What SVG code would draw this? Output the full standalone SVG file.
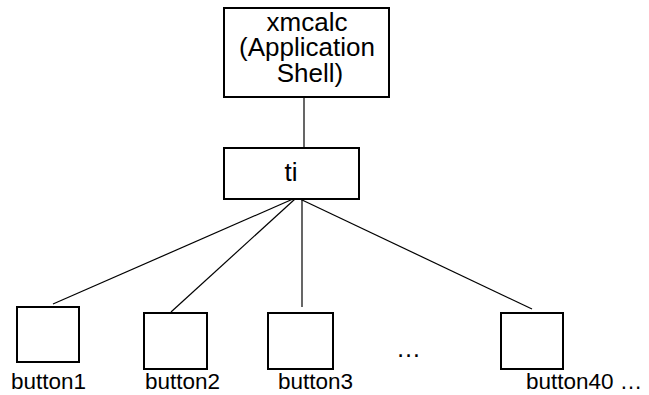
<svg xmlns="http://www.w3.org/2000/svg" width="649" height="395" viewBox="0 0 649 395">
<style>
.box{fill:#fff;stroke:#000;stroke-width:2}
.ln{stroke:#000;stroke-width:1.2;fill:none}
text{font-family:"Liberation Sans",Arial,sans-serif;fill:#000}
.t{font-size:26px;text-anchor:middle}
.l{font-size:22.5px}
</style>
<rect width="649" height="395" fill="#fff"/>
<g id="connectors">
<line class="ln" x1="304" y1="97" x2="304" y2="148"/>
<line class="ln" x1="293" y1="199" x2="53" y2="304"/>
<line class="ln" x1="295" y1="199" x2="171" y2="312"/>
<line class="ln" x1="302" y1="199" x2="302" y2="307"/>
<line class="ln" x1="300" y1="199" x2="532" y2="309"/>
</g>
<g id="xmcalc">
<rect class="box" x="224" y="8" width="165" height="89"/>
<text class="t" x="307" y="31">xmcalc</text>
<text class="t" x="307" y="56">(Application</text>
<text class="t" x="310" y="82">Shell)</text>
</g>
<g id="ti">
<rect class="box" x="224" y="148" width="135" height="51"/>
<text class="t" x="291" y="181">ti</text>
</g>
<g id="button1">
<rect class="box" x="17" y="307" width="62" height="55"/>
<text class="l" x="11" y="389">button1</text>
</g>
<g id="button2">
<rect class="box" x="144" y="313" width="63" height="56"/>
<text class="l" x="145" y="389">button2</text>
</g>
<g id="button3">
<rect class="box" x="268" y="313" width="65" height="56"/>
<text class="l" x="278" y="389">button3</text>
</g>
<g id="ellipsis">
<text class="l" x="396" y="357" style="font-size:25px">…</text>
</g>
<g id="button40">
<rect class="box" x="501" y="313" width="62" height="56"/>
<text class="l" x="526" y="389">button40 …</text>
</g>
</svg>
